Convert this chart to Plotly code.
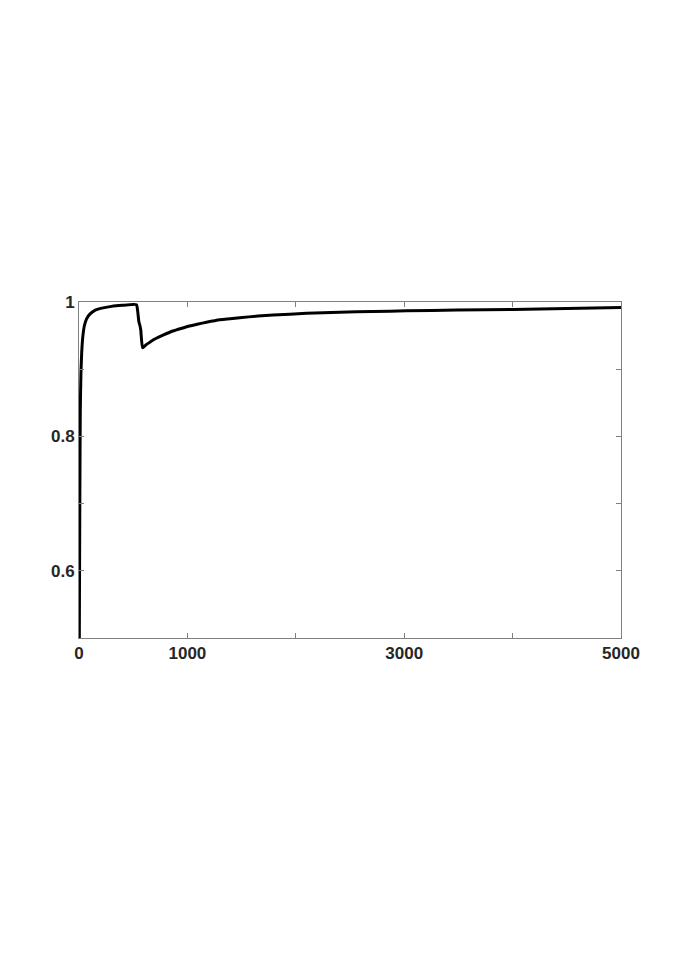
import plotly.graph_objects as go

iterations = [0, 4, 8, 12, 18, 25, 35, 50, 70, 100, 150, 200, 300, 400, 530,
              540, 552, 562, 570, 586, 620, 660, 713, 780, 866, 950, 1020, 1100, 1175,
              1300, 1482, 1650, 1790, 2098, 2405, 2711, 3021, 3483, 4003, 4500, 5000]
accuracy = [0.35, 0.55, 0.72, 0.84, 0.895, 0.925, 0.948, 0.965, 0.975, 0.982, 0.988, 0.9905, 0.9935, 0.995, 0.996,
            0.988, 0.971, 0.965, 0.958, 0.932, 0.9365, 0.941, 0.946, 0.951, 0.9568, 0.961, 0.9643, 0.9673, 0.9698,
            0.9735, 0.9767, 0.979, 0.9807, 0.9831, 0.9848, 0.9858, 0.9868, 0.988, 0.989, 0.9905, 0.992]

x_tickvals = [0, 1000, 2000, 3000, 4000, 5000]
x_ticktext = ["0", "1000", "", "3000", "", "5000"]
y_tickvals = [0.5, 0.6, 0.7, 0.8, 0.9, 1.0]
y_ticktext = ["", "0.6", "", "0.8", "", "1"]

fig = go.Figure()
fig.add_trace(go.Scatter(x=iterations, y=accuracy, mode="lines", line_shape="spline",
                         line=dict(color="black", width=3, smoothing=0.4), showlegend=False))

axis_common = dict(showgrid=False, zeroline=False, showline=True, linecolor="#808080",
                   linewidth=1, mirror="ticks", ticks="inside", ticklen=5,
                   tickcolor="#808080", tickwidth=1,
                   tickfont=dict(family="Liberation Sans", size=17, color="#262626", weight="bold"))

fig.update_xaxes(range=[0, 5000], tickvals=x_tickvals, ticktext=x_ticktext, **axis_common)
fig.update_yaxes(range=[0.5, 1.0], tickvals=y_tickvals, ticktext=y_ticktext, **axis_common)

fig.update_layout(width=660, height=940, margin=dict(l=71, r=47, t=294, b=310),
                  paper_bgcolor="white", plot_bgcolor="white",
                  font=dict(family="Liberation Sans", size=17, weight="bold"))

fig.write_html("out.html")
